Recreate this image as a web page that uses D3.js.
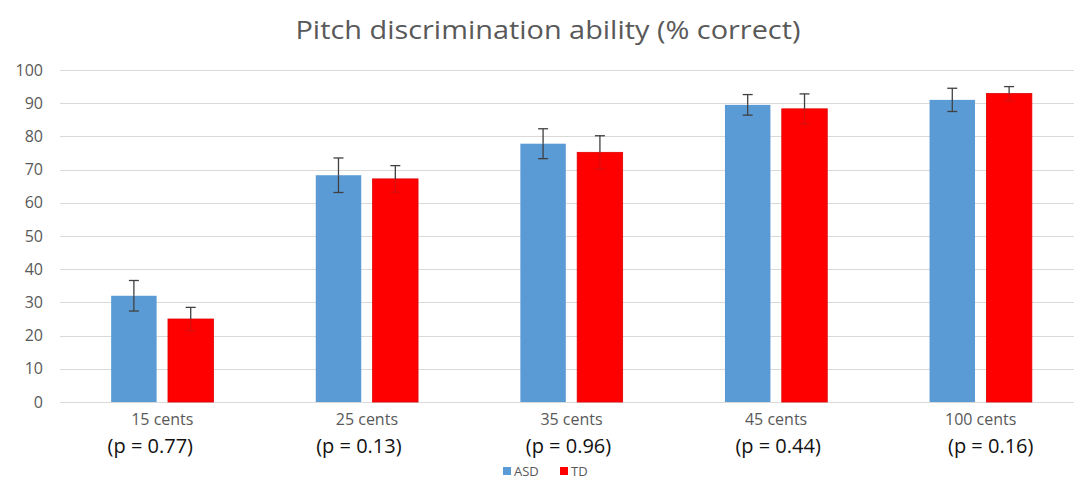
<!DOCTYPE html>
<html>
<head>
<meta charset="utf-8">
<script src="https://cdn.jsdelivr.net/npm/d3@7"></script>
<style>
  body { margin: 0; background: #fff; }
  svg { display: block; }
  text { font-family: "Open Sans", Lato, sans-serif; }
</style>
</head>
<body>
<svg id="chart" width="1074" height="483"></svg>
<script>
const categories = ["15 cents", "25 cents", "35 cents", "45 cents", "100 cents"];
const pLabels = ["(p = 0.77)", "(p = 0.13)", "(p = 0.96)", "(p = 0.44)", "(p = 0.16)"];
const seriesNames = ["ASD", "TD"];
const asdValues = [32, 68.3, 77.8, 89.5, 91];
const tdValues = [25, 67.2, 75.2, 88.3, 92.9];
const asdErrors = [4.6, 5.2, 4.5, 3.1, 3.5];
const tdErrors = [3.5, 4.0, 5.0, 4.5, 2.1];
const yTicks = [0, 10, 20, 30, 40, 50, 60, 70, 80, 90, 100];
const title = "Pitch discrimination ability (% correct)";

const colors = { ASD: "#5B9BD5", TD: "#FF0000" };
const svg = d3.select("#chart");

const x0 = d3.scaleBand().domain(categories).range([60, 1083]).paddingInner(0.5).paddingOuter(0.25);
const x1 = d3.scaleBand().domain(seriesNames).range([0, x0.bandwidth()]).paddingInner(0.2);
const y = d3.scaleLinear().domain([0, 100]).range([402, 70]);

// title
const t = svg.append("text").attr("x", 548).attr("y", 39).attr("text-anchor", "middle")
  .attr("font-size", 26).attr("fill", "#595959").text(title);
const tw = t.node().getComputedTextLength();
if (Math.abs(tw - 505) > 8) t.attr("textLength", 505).attr("lengthAdjust", "spacingAndGlyphs");

// gridlines
svg.append("g").selectAll("line").data(yTicks).join("line")
  .attr("x1", 60).attr("x2", 1074)
  .attr("y1", d => Math.round(y(d)) + 0.5).attr("y2", d => Math.round(y(d)) + 0.5)
  .attr("stroke", "#d9d9d9").attr("stroke-width", 1);

// y axis labels
const yAxis = d3.axisLeft(y).tickValues(yTicks).tickSize(0).tickPadding(0);
const gy = svg.append("g").attr("transform", "translate(43,0)").call(yAxis);
gy.select(".domain").remove();
gy.selectAll("text").attr("font-size", 16).attr("fill", "#595959").attr("font-family", "'Open Sans', Lato, sans-serif");

const data = categories.map((c, i) => ({
  cat: c,
  vals: [
    { s: "ASD", v: asdValues[i], e: asdErrors[i] },
    { s: "TD", v: tdValues[i], e: tdErrors[i] }
  ]
}));

const groups = svg.append("g").selectAll("g").data(data).join("g")
  .attr("transform", d => `translate(${x0(d.cat)},0)`);

groups.selectAll("rect").data(d => d.vals).join("rect")
  .attr("x", d => x1(d.s)).attr("width", x1.bandwidth())
  .attr("y", d => y(d.v)).attr("height", d => y(0) - y(d.v))
  .attr("fill", d => colors[d.s])
  .attr("stroke", d => d.s === "TD" ? "#E00000" : "none").attr("stroke-width", 0.8);

// error bars
const eb = groups.selectAll("g.eb").data(d => d.vals).join("g").attr("class", "eb")
  .attr("stroke", "#404040").attr("stroke-width", 1.3);
const cx = d => x1(d.s) + x1.bandwidth() / 2;
eb.append("line")
  .attr("x1", cx).attr("x2", cx)
  .attr("y1", d => y(d.v + d.e)).attr("y2", d => y(d.v));
eb.append("line")
  .attr("x1", cx).attr("x2", cx)
  .attr("y1", d => y(d.v)).attr("y2", d => y(d.v - d.e))
  .attr("stroke-opacity", d => d.s === "TD" ? 0.2 : 1);
eb.append("line")
  .attr("x1", d => cx(d) - 5).attr("x2", d => cx(d) + 5)
  .attr("y1", d => y(d.v + d.e)).attr("y2", d => y(d.v + d.e));
eb.append("line")
  .attr("x1", d => cx(d) - 5).attr("x2", d => cx(d) + 5)
  .attr("y1", d => y(d.v - d.e)).attr("y2", d => y(d.v - d.e))
  .attr("stroke-opacity", d => d.s === "TD" ? 0.2 : 1);

// category labels
svg.append("g").selectAll("text").data(categories).join("text")
  .attr("x", d => x0(d) + x0.bandwidth() / 2).attr("y", 425)
  .attr("text-anchor", "middle").attr("font-size", 16).attr("fill", "#595959").text(d => d);

// p labels
const pShift = [-12, -8, -3, 2, 10];
svg.append("g").selectAll("text").data(pLabels).join("text")
  .attr("x", (d, i) => x0(categories[i]) + x0.bandwidth() / 2 + pShift[i]).attr("y", 453)
  .attr("text-anchor", "middle").attr("font-size", 20).attr("fill", "#111").text(d => d);

// legend
const legend = svg.append("g").attr("transform", "translate(503,467)");
const lx = [0, 57];
seriesNames.forEach((s, i) => {
  legend.append("rect").attr("x", lx[i]).attr("y", 0).attr("width", 8).attr("height", 8).attr("fill", colors[s]);
  legend.append("text").attr("x", lx[i] + 11).attr("y", 9).attr("font-size", 13).attr("fill", "#595959").text(s);
});
</script>
</body>
</html>
